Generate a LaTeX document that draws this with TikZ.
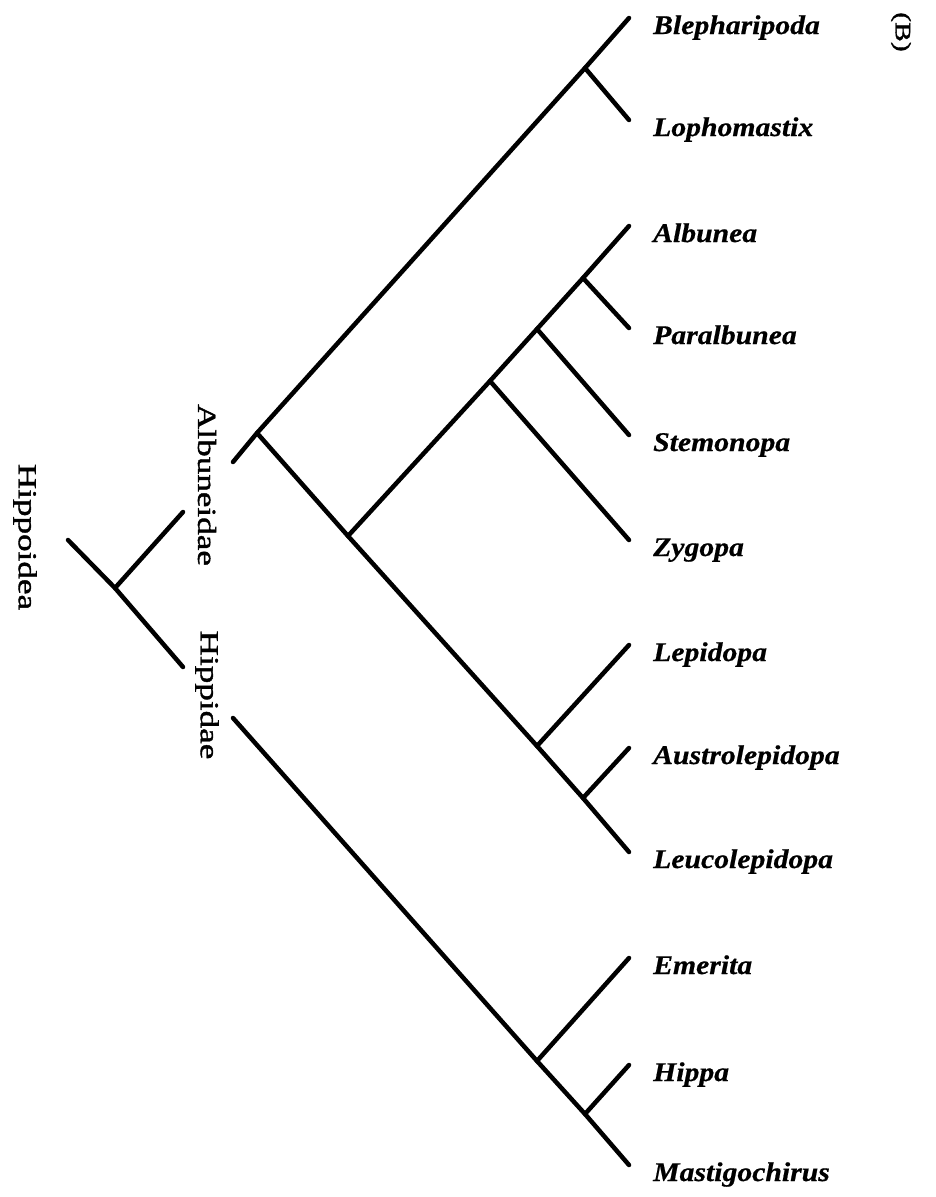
\documentclass[tikz,border=0pt]{standalone}
\usepackage{fontspec}
\usepackage{tikz}
\newfontfamily\taxonfam{Liberation Serif}[FakeStretch=1.1, FakeBold=0.6]
\newfontfamily\groupfam{Liberation Serif}[FakeStretch=1.35, FakeBold=1.5]
\newcommand{\taxonfont}{\taxonfam\bfseries\itshape\fontsize{27}{30}\selectfont}
\newcommand{\groupfont}{\groupfam\fontsize{26}{30}\selectfont}
\newcommand{\panelfont}{\groupfam\fontsize{22}{26}\selectfont}

\begin{document}
\begin{tikzpicture}[
		x=1pt, y=-1pt
		,branch/.style={line width=4.5pt, line cap=round, line join=round}
		,taxon/.style={anchor=base west, xshift=24pt, yshift=-16pt, inner sep=0pt, font=\taxonfont}
		,group/.style={rotate=-90, inner sep=0pt, font=\groupfont}
	]
		\useasboundingbox (0,0) rectangle (935,1197);

		% tips
		\coordinate (tBle) at (629,18);
		\coordinate (tLop) at (629,120);
		\coordinate (tAlb) at (629,226);
		\coordinate (tPar) at (629,328);
		\coordinate (tSte) at (629,435);
		\coordinate (tZyg) at (629,540);
		\coordinate (tLep) at (629,645);
		\coordinate (tAus) at (629,748);
		\coordinate (tLeu) at (629,852);
		\coordinate (tEme) at (629,958);
		\coordinate (tHip) at (629,1065);
		\coordinate (tMas) at (629,1165);

		% inner nodes
		\coordinate (hoStem) at (68,540);
		\coordinate (hoRoot) at (115,588);
		\coordinate (hoAlb) at (183,512);
		\coordinate (hoHip) at (183,667);
		\coordinate (alStem) at (233,462);
		\coordinate (alRoot) at (257,433);
		\coordinate (blRoot) at (585,68);
		\coordinate (lgRoot) at (348,536);
		\coordinate (zyRoot) at (490,381);
		\coordinate (stRoot) at (537,329);
		\coordinate (apRoot) at (583,278);
		\coordinate (lpRoot) at (537,746);
		\coordinate (auRoot) at (583,798);
		\coordinate (hiStem) at (233,718);
		\coordinate (emRoot) at (537,1061);
		\coordinate (hiRoot) at (585,1114);

		\node[taxon] (Ble) at (tBle) {Blepharipoda};
		\node[taxon] (Lop) at (tLop) {Lophomastix};
		\node[taxon] (Alb) at (tAlb) {Albunea};
		\node[taxon] (Par) at (tPar) {Paralbunea};
		\node[taxon] (Ste) at (tSte) {Stemonopa};
		\node[taxon] (Zyg) at (tZyg) {Zygopa};
		\node[taxon] (Lep) at (tLep) {Lepidopa};
		\node[taxon] (Aus) at (tAus) {Austrolepidopa};
		\node[taxon] (Leu) at (tLeu) {Leucolepidopa};
		\node[taxon] (Eme) at (tEme) {Emerita};
		\node[taxon] (Hip) at (tHip) {Hippa};
		\node[taxon] (Mas) at (tMas) {Mastigochirus};

		\node[group] (Hippoidea) at (25,537) {Hippoidea};
		\node[group] (Albuneidae) at (207,485) {Albuneidae};
		\node[group] (Hippidae) at (207,695) {Hippidae};
		\node[group, font=\panelfont] (panel) at (901,32) {(B)};

		% Hippoidea
		\draw[branch] (hoStem) -- (hoRoot) -- (hoHip);
		\draw[branch] (hoRoot) -- (hoAlb);
		% Albuneidae
		\draw[branch] (alStem) -- (alRoot) -- (blRoot) -- (tBle);
		\draw[branch] (blRoot) -- (tLop);
		\draw[branch] (alRoot) -- (lgRoot) -- (lpRoot) -- (auRoot) -- (tLeu);
		\draw[branch] (lgRoot) -- (zyRoot) -- (stRoot) -- (apRoot) -- (tAlb);
		\draw[branch] (apRoot) -- (tPar);
		\draw[branch] (stRoot) -- (tSte);
		\draw[branch] (zyRoot) -- (tZyg);
		\draw[branch] (lpRoot) -- (tLep);
		\draw[branch] (auRoot) -- (tAus);
		% Hippidae
		\draw[branch] (hiStem) -- (emRoot) -- (hiRoot) -- (tMas);
		\draw[branch] (emRoot) -- (tEme);
		\draw[branch] (hiRoot) -- (tHip);
	\end{tikzpicture}
\end{document}
